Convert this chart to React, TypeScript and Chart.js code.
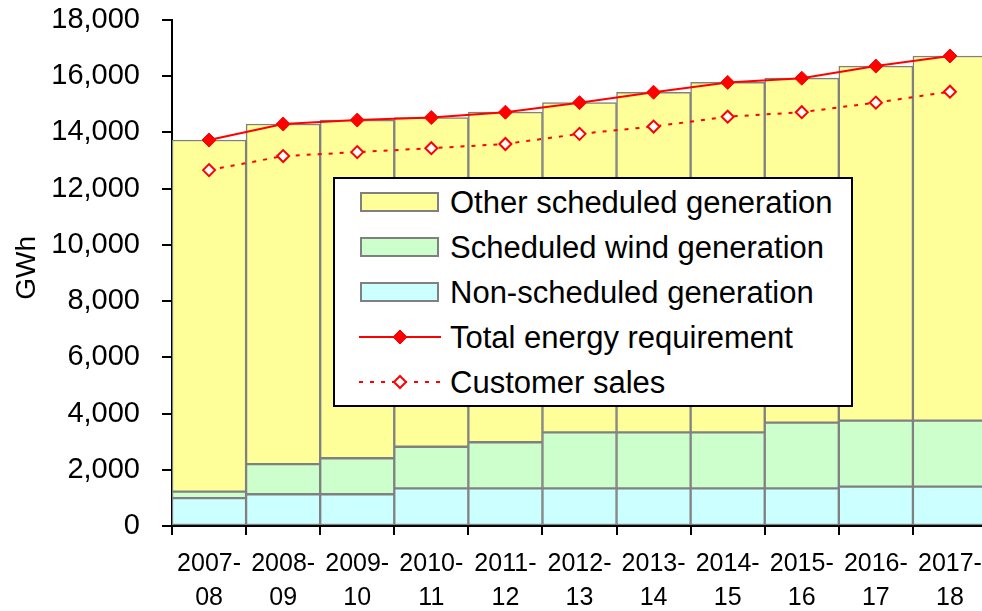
import React, { useEffect, useRef } from 'react';
import { Chart, registerables } from 'chart.js';

Chart.register(...registerables);

const categories = [
  ['2007-', '08'], ['2008-', '09'], ['2009-', '10'], ['2010-', '11'], ['2011-', '12'],
  ['2012-', '13'], ['2013-', '14'], ['2014-', '15'], ['2015-', '16'], ['2016-', '17'], ['2017-', '18'],
];
const nonScheduled = [990, 1130, 1130, 1340, 1340, 1340, 1340, 1340, 1340, 1400, 1400];
const windGen = [230, 1070, 1280, 1480, 1640, 1990, 1990, 1990, 2340, 2350, 2350];
const otherScheduled = [12510, 12100, 12030, 11710, 11740, 11730, 12100, 12450, 12250, 12610, 12970];
const totalRequirement = [13730, 14300, 14440, 14530, 14720, 15060, 15430, 15780, 15930, 16360, 16720];
const customerSales = [12660, 13160, 13300, 13440, 13590, 13950, 14210, 14560, 14720, 15060, 15450];

const yTickMin = 0;
const yTickMax = 18000;
const yTickStep = 2000;

const FONT = '"Liberation Sans", Arial, Helvetica, sans-serif';

const legendItems = [
  { label: 'Other scheduled generation', kind: 'box', color: '#FFFF99' },
  { label: 'Scheduled wind generation', kind: 'box', color: '#CCFFCC' },
  { label: 'Non-scheduled generation', kind: 'box', color: '#CCFFFF' },
  { label: 'Total energy requirement', kind: 'solid', color: '#FF0000' },
  { label: 'Customer sales', kind: 'dotted', color: '#FF0000' },
];

export default function App() {
  const canvasRef = useRef<HTMLCanvasElement | null>(null);

  useEffect(() => {
    if (!canvasRef.current) return;
    const gwhPlugin = {
      id: 'gwhTitle',
      afterDraw(chart: any) {
        const { ctx, chartArea } = chart;
        ctx.save();
        ctx.translate(chartArea.left - 145, chartArea.top + (chartArea.bottom - chartArea.top) * 0.49);
        ctx.rotate(-Math.PI / 2);
        ctx.font = `28px ${FONT}`;
        ctx.fillStyle = '#000';
        ctx.textAlign = 'center';
        ctx.textBaseline = 'middle';
        ctx.fillText('GWh', 0, 0);
        ctx.restore();
      },
    };

    const barCommon = {
      borderColor: '#808080',
      borderWidth: 1.5,
      borderSkipped: false as const,
      barPercentage: 1,
      categoryPercentage: 1,
      stack: 'gen',
      order: 1,
    };

    const chart = new Chart(canvasRef.current, {
      type: 'bar',
      data: {
        labels: categories as any,
        datasets: [
          {
            type: 'line',
            label: 'Total energy requirement',
            data: totalRequirement,
            borderColor: '#FF0000',
            backgroundColor: '#FF0000',
            borderWidth: 2,
            pointStyle: 'rectRot',
            pointRadius: 7,
            pointBackgroundColor: '#FF0000',
            pointBorderColor: '#FF0000',
            pointBorderWidth: 1,
            stack: 'total',
            order: 0,
            tension: 0,
          } as any,
          {
            type: 'line',
            label: 'Customer sales',
            data: customerSales,
            borderColor: '#FF0000',
            backgroundColor: '#FFFFFF',
            borderWidth: 2,
            borderDash: [4, 7],
            pointStyle: 'rectRot',
            pointRadius: 6,
            pointBackgroundColor: '#FFFFFF',
            pointBorderColor: '#FF0000',
            pointBorderWidth: 2,
            stack: 'sales',
            order: 0,
            tension: 0,
          } as any,
          { ...barCommon, label: 'Non-scheduled generation', data: nonScheduled, backgroundColor: '#CCFFFF' },
          { ...barCommon, label: 'Scheduled wind generation', data: windGen, backgroundColor: '#CCFFCC' },
          { ...barCommon, label: 'Other scheduled generation', data: otherScheduled, backgroundColor: '#FFFF99' },
        ],
      },
      options: {
        animation: false,
        responsive: true,
        maintainAspectRatio: false,
        layout: { padding: { top: 20, right: 0, left: 0, bottom: 0 } },
        plugins: {
          legend: { display: false },
          tooltip: { enabled: false },
        },
        scales: {
          x: {
            stacked: true,
            offset: true,
            grid: {
              display: true,
              offset: true,
              drawOnChartArea: false,
              drawTicks: true,
              tickLength: 9,
              color: '#000',
              lineWidth: 2,
            },
            border: { display: true, color: '#000', width: 2 },
            ticks: {
              color: '#000',
              font: { family: FONT, size: 25, lineHeight: 1.36 },
              padding: 12,
              maxRotation: 0,
              minRotation: 0,
              autoSkip: false,
            },
            afterFit: (s: any) => {
              s.height = 85;
              s.paddingLeft = 0;
              s.paddingRight = 0;
            },
          },
          y: {
            stacked: true,
            min: yTickMin,
            max: yTickMax,
            grid: {
              display: true,
              drawOnChartArea: false,
              drawTicks: true,
              tickLength: 10,
              color: '#000',
              lineWidth: 2,
            },
            border: { display: true, color: '#000', width: 2 },
            ticks: {
              stepSize: yTickStep,
              color: '#000',
              font: { family: FONT, size: 29 },
              padding: 22,
              callback: (v: any) => Number(v).toLocaleString('en-US'),
            },
            afterFit: (s: any) => {
              s.width = 172;
              s.paddingTop = 0;
              s.paddingBottom = 0;
            },
          },
        },
      },
      plugins: [gwhPlugin],
    });
    return () => chart.destroy();
  }, []);

  const rowCenters = [23, 68, 113, 158, 203];

  return (
    <div style={{ position: 'absolute', left: 0, top: 0, width: 982, height: 611, overflow: 'hidden', background: '#fff' }}>
      <div style={{ position: 'relative', width: 995, height: 611 }}>
        <canvas ref={canvasRef} />
      </div>
      <div
        style={{
          position: 'absolute', left: 333, top: 177, width: 520, height: 230,
          boxSizing: 'border-box', border: '2px solid #000', background: '#fff',
          fontFamily: FONT, fontSize: 31, color: '#000',
        }}
      >
        {legendItems.map((it, i) => {
          const c = rowCenters[i];
          return (
            <React.Fragment key={it.label}>
              {it.kind === 'box' ? (
                <div style={{
                  position: 'absolute', left: 25, top: c - 10, width: 79, height: 20,
                  boxSizing: 'border-box', border: '2px solid #808080', background: it.color,
                }} />
              ) : (
                <svg style={{ position: 'absolute', left: 24, top: c - 10 }} width={82} height={20}>
                  <line x1={0} y1={10} x2={82} y2={10} stroke={it.color} strokeWidth={2}
                    strokeDasharray={it.kind === 'dotted' ? '4 7' : undefined} />
                  {it.kind === 'solid' ? (
                    <polygon points="41,3 48,10 41,17 34,10" fill={it.color} stroke={it.color} strokeWidth={1} />
                  ) : (
                    <polygon points="41,4 47,10 41,16 35,10" fill="#fff" stroke={it.color} strokeWidth={2} />
                  )}
                </svg>
              )}
              <span style={{
                position: 'absolute', left: 115, top: c, transform: 'translateY(-50%)',
                lineHeight: 1, whiteSpace: 'nowrap',
              }}>{it.label}</span>
            </React.Fragment>
          );
        })}
      </div>
    </div>
  );
}
